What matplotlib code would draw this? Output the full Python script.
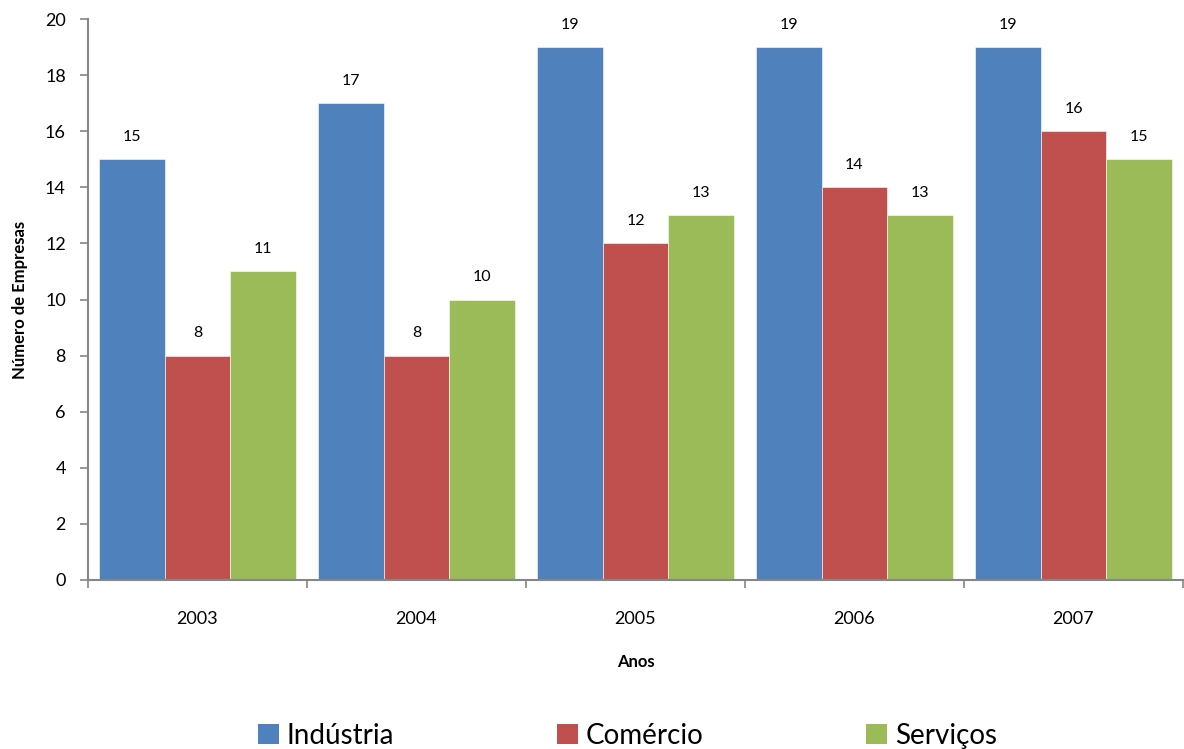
import numpy as np
import matplotlib
matplotlib.use("Agg")
from matplotlib import pyplot as plt
from matplotlib.patches import Patch

plt.rcParams['font.family'] = ['Lato', 'DejaVu Sans']

anos = ['2003', '2004', '2005', '2006', '2007']
industria = [15, 17, 19, 19, 19]
comercio = [8, 8, 12, 14, 16]
servicos = [11, 10, 13, 13, 15]

series = [('Indústria', industria, '#4F81BD'),
          ('Comércio', comercio, '#C0504D'),
          ('Serviços', servicos, '#9BBB59')]

fig = plt.figure(figsize=(11.84, 7.49), dpi=100)
ax = fig.add_axes([88/1184, 1 - 580/749, (1183-88)/1184, (580-19)/749])

x = np.arange(len(anos))
w = 0.3
for i, (nome, vals, cor) in enumerate(series):
    pos = x + (i - 1) * w
    ax.bar(pos, vals, width=w, color=cor, edgecolor='white', linewidth=0.4)
    for p, v in zip(pos, vals):
        ax.text(p, v + 0.8, str(v), ha='center', va='center', fontsize=11.5)

ax.set_xlim(-0.5, len(anos) - 0.5)
ax.set_ylim(0, 20)
ax.set_yticks(range(0, 21, 2))
ax.set_xticks(x)
ax.set_xticklabels(anos, fontsize=13)
ax.set_xticks(np.arange(-0.5, len(anos)), minor=True)
ax.tick_params(axis='x', which='major', length=0, pad=22)
ax.tick_params(axis='x', which='minor', length=6, width=1.2, color='#868686', direction='out')
ax.tick_params(axis='y', length=6, width=1.2, color='#868686', labelsize=13, pad=10)

for s in ['top', 'right']:
    ax.spines[s].set_visible(False)
for s in ['left', 'bottom']:
    ax.spines[s].set_color('#868686')
    ax.spines[s].set_linewidth(1.5)

ax.set_ylabel('Número de Empresas', fontsize=12, fontweight='bold', labelpad=12)
ax.set_xlabel('Anos', fontsize=12, fontweight='bold', labelpad=20)

handles = [Patch(facecolor=c, edgecolor='none') for _, _, c in series]
fig.legend(handles, [n for n, _, _ in series], loc='center', bbox_to_anchor=(0.53, 1 - 736/749),
           ncol=3, frameon=False, fontsize=20, handlelength=0.75, handleheight=0.75,
           handletextpad=0.3, columnspacing=5.85)

fig.savefig('out.png', dpi=100)
